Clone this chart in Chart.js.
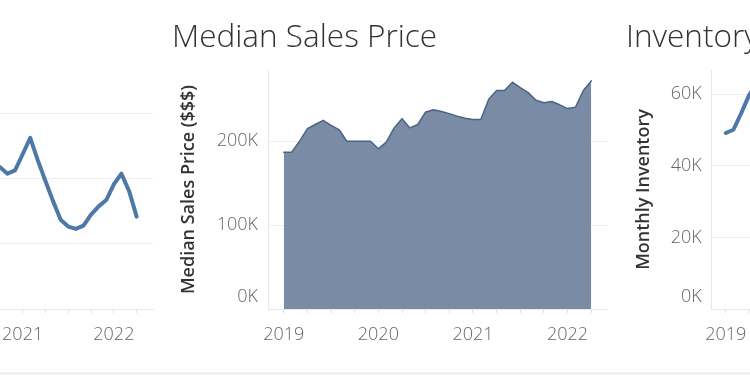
<!DOCTYPE html>
<html>
<head>
<meta charset="utf-8">
<script src="https://cdn.jsdelivr.net/npm/chart.js@4"></script>
<style>
  html, body { margin: 0; padding: 0; background: #fff; }
  body { width: 750px; height: 375px; position: relative; overflow: hidden; }
  canvas { position: absolute; top: 0; }
  #c1 { left: -294px; }
  #c2 { left: 160px; }
  #c3 { left: 614px; }
  .sep { position: absolute; left: 0; top: 372px; width: 750px; height: 3px; background: #f2f2f2; }
</style>
</head>
<body>
<canvas id="c1" width="454" height="375"></canvas>
<canvas id="c2" width="454" height="375"></canvas>
<canvas id="c3" width="454" height="375"></canvas>
<div class="sep"></div>
<script>
// monthly, Jan 2019 .. Apr 2022
const months = [
  "2019-01", "2019-02", "2019-03", "2019-04", "2019-05", "2019-06", "2019-07", "2019-08", "2019-09", "2019-10", "2019-11", "2019-12",
  "2020-01", "2020-02", "2020-03", "2020-04", "2020-05", "2020-06", "2020-07", "2020-08", "2020-09", "2020-10", "2020-11", "2020-12",
  "2021-01", "2021-02", "2021-03", "2021-04", "2021-05", "2021-06", "2021-07", "2021-08", "2021-09", "2021-10", "2021-11", "2021-12",
  "2022-01", "2022-02", "2022-03", "2022-04",
];

// left panel, only the part from Oct 2020 on is visible
const homesSold = [
  null, null, null, null, null, null, null, null, null, null, null, null,
  null, null, null, null, null, null, null, null, null, 10870, 10360, 10620,
  11850, 13100, 11380, 9800, 8260, 6840, 6310, 6130, 6380, 7220, 7860, 8340,
  9550, 10360, 9040, 7070,
];

const medianPrice = [
  187000, 187000, 200000, 215000, 220000, 225000, 219000, 214000, 200000, 200000, 200000, 200000,
  191000, 199000, 216000, 227000, 216000, 220000, 235000, 237500, 235500, 233000, 230000, 227500,
  226000, 226000, 250000, 260600, 260600, 270500, 264000, 258000, 249000, 246000, 247500, 243500,
  239000, 240600, 260600, 272000,
];

// right panel, only the first months are visible
const inventory = [
  49200, 50100, 54600, 59500, 63000, null, null, null, null, null, null, null,
  null, null, null, null, null, null, null, null, null, null, null, null,
  null, null, null, null, null, null, null, null, null, null, null, null,
  null, null, null, null,
];

const quarterTicks = [0, 3, 6, 9, 12, 15, 18, 21, 24, 27, 30, 33, 36, 39];
const soldTicks = [0, 5000, 10000, 15000];
const priceTicks = [0, 100000, 200000];
const inventoryTicks = [0, 20000, 40000, 60000];

const FONT = "'Open Sans', sans-serif";

function points(values) {
  return months.map((m, i) => ({ x: i, y: values[i] }));
}

function kLabel(v) {
  return Math.round(v / 1000) + "K";
}

function yearLabel(v) {
  const m = months[v];
  return m && m.endsWith("-01") ? m.slice(0, 4) : "";
}

// tableau keeps the bottom axis label inside the pane, so lift the 0K label
const liftZero = {
  id: "liftZero",
  beforeDraw(chart) {
    const items = chart.scales.y.getLabelItems();
    const zero = items.find((it) => it.label === "0K");
    if (zero && !zero.lifted) {
      zero.options.translation[1] -= 12;
      zero.lifted = true;
    }
  },
};

function panel(id, cfg) {
  return new Chart(document.getElementById(id).getContext("2d"), {
    type: "line",
    data: {
      datasets: [
        {
          data: points(cfg.values),
          borderColor: cfg.line,
          borderWidth: cfg.width,
          backgroundColor: cfg.fill || "transparent",
          fill: cfg.fill ? "origin" : false,
          pointRadius: 0,
          tension: 0,
          borderJoinStyle: "round",
          borderCapStyle: "round",
        },
      ],
    },
    plugins: [liftZero],
    options: {
      responsive: false,
      animation: false,
      layout: { padding: { left: 12, right: 7, top: 0, bottom: 16 } },
      plugins: {
        legend: { display: false },
        tooltip: { enabled: false },
        title: {
          display: true,
          text: cfg.title,
          align: "start",
          color: "#333",
          font: { family: FONT, size: 31.5, weight: "300" },
          padding: { top: 19, bottom: 13.2 },
        },
      },
      scales: {
        x: {
          type: "linear",
          min: cfg.xMin,
          max: cfg.xMax,
          afterBuildTicks: (s) => {
            s.ticks = quarterTicks.map((v) => ({ value: v }));
          },
          afterFit: (s) => {
            s.height = 50;
          },
          ticks: {
            callback: yearLabel,
            color: "#666",
            font: { family: FONT, size: 18, weight: "300" },
            padding: 11,
            maxRotation: 0,
            autoSkip: false,
          },
          grid: { drawOnChartArea: false, tickLength: 4, color: "#e0e0e0" },
          border: { color: "#e8e8e8" },
        },
        y: {
          min: 0,
          max: cfg.yMax,
          afterBuildTicks: (s) => {
            s.ticks = cfg.yTicks.map((v) => ({ value: v }));
          },
          afterFit: (s) => {
            s.width = cfg.yWidth;
          },
          ticks: {
            callback: kLabel,
            color: "#666",
            font: { family: FONT, size: 18, weight: "300" },
            padding: 10,
          },
          grid: { drawTicks: false, color: "#eeeeee" },
          border: { color: "#e8e8e8" },
          title: {
            display: true,
            text: cfg.yTitle,
            color: "#333",
            font: { family: FONT, size: 18, weight: "600" },
            padding: { top: cfg.yTitlePad, bottom: 0 },
          },
        },
      },
    },
  });
}

panel("c1", {
  title: "Homes Sold",
  yTitle: "Homes Sold",
  values: homesSold,
  line: "#4e79a7",
  width: 4,
  xMin: -2,
  xMax: 41.15,
  yMax: 18300,
  yTicks: soldTicks,
  yWidth: 107,
  yTitlePad: 6,
});

panel("c2", {
  title: "Median Sales Price",
  yTitle: "Median Sales Price ($$$)",
  values: medianPrice,
  line: "#4b6386",
  fill: "rgba(122, 139, 165, 1)",
  width: 1.5,
  xMin: -2,
  xMax: 41,
  yMax: 285000,
  yTicks: priceTicks,
  yWidth: 96,
  yTitlePad: 6,
});

panel("c3", {
  title: "Inventory",
  yTitle: "Monthly Inventory",
  values: inventory,
  line: "#4e79a7",
  width: 4,
  xMin: -1.85,
  xMax: 44,
  yMax: 66800,
  yTicks: inventoryTicks,
  yWidth: 85.7,
  yTitlePad: 7,
});
</script>
</body>
</html>
